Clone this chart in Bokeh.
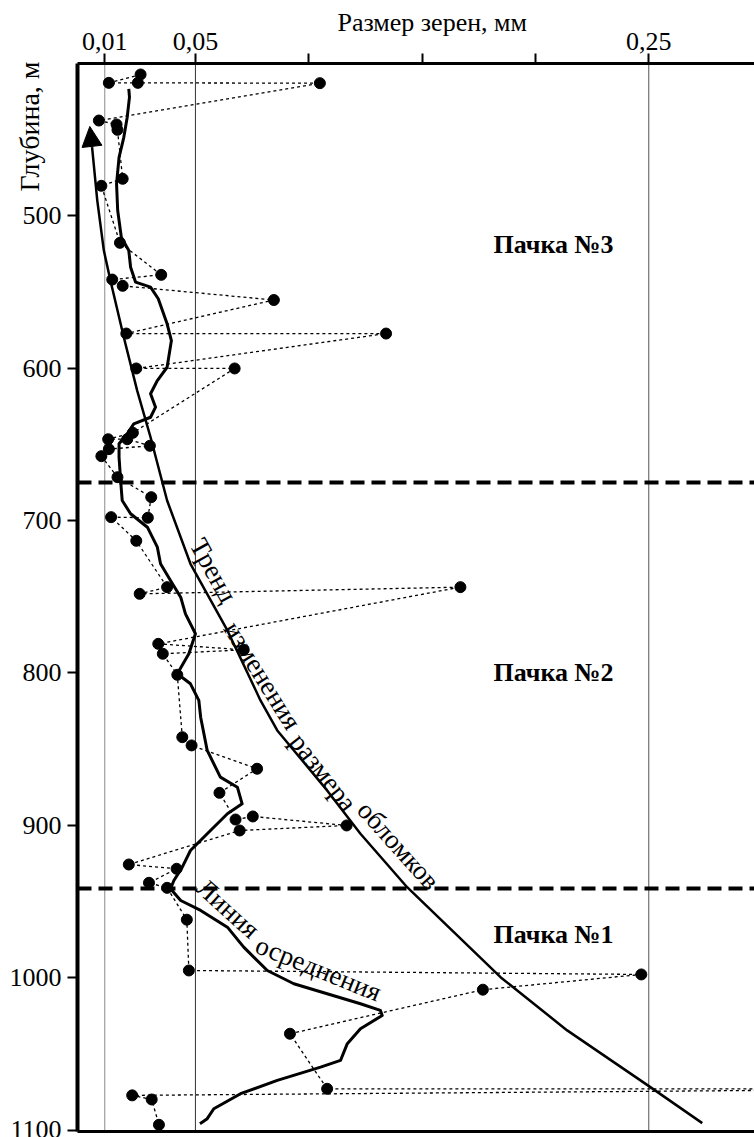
from bokeh.plotting import figure
from bokeh.models import Range1d, LinearAxis, FixedTicker, Span, Label, Arrow, NormalHead
from bokeh.embed import file_html
from bokeh.resources import INLINE

# ---------------- data (grain size, mm ; depth, m) ----------------
sample_size = [0.0258, 0.0118, 0.0246, 0.1049, 0.0074, 0.0152, 0.0156, 0.0179, 0.0085, 0.0167,
               0.0349, 0.0133, 0.0179, 0.0846, 0.0195, 0.1341, 0.0239, 0.0673, 0.0224, 0.0115,
               0.0199, 0.0299, 0.0118, 0.0085, 0.0156, 0.0305, 0.0290, 0.0128, 0.0239, 0.0375,
               0.0254, 0.1669, 0.0336, 0.0713, 0.0356, 0.0420, 0.0442, 0.0483, 0.0772, 0.0606,
               0.0677, 0.0753, 0.1167, 0.0695, 0.0206, 0.0417, 0.0295, 0.0375, 0.0462, 0.0471,
               0.2467, 0.1768, 0.0917, 0.1081, 0.3900, 0.0221, 0.0307, 0.0339]
sample_depth = [407.5, 413.0, 413.0, 413.2, 437.7, 440.3, 443.8, 475.9, 480.5, 517.9,
                538.9, 542.0, 546.1, 555.4, 577.4, 577.4, 600.3, 600.3, 642.5, 646.7,
                646.7, 651.0, 653.2, 657.8, 671.6, 684.7, 698.2, 697.8, 713.3, 743.7,
                748.1, 743.7, 780.9, 784.8, 787.4, 801.2, 842.1, 847.5, 862.8, 878.6,
                896.1, 894.1, 900.0, 903.3, 925.6, 928.4, 937.6, 940.9, 961.8, 995.1,
                997.7, 1007.7, 1036.6, 1072.7, 1072.7, 1077.0, 1079.7, 1096.3]

avg_size = [0.0206, 0.0209, 0.0199, 0.0184, 0.0163, 0.0152, 0.0157, 0.0173, 0.0206, 0.0214,
            0.0236, 0.0302, 0.0336, 0.0375, 0.0394, 0.0375, 0.0332, 0.0302, 0.0324, 0.0302,
            0.0228, 0.0199, 0.0163, 0.0163, 0.0170, 0.0177, 0.0214, 0.0288, 0.0332, 0.0346,
            0.0390, 0.0435, 0.0456, 0.0500, 0.0471, 0.0420, 0.0478, 0.0515, 0.0523, 0.0552,
            0.0610, 0.0685, 0.0706, 0.0641, 0.0552, 0.0478, 0.0442, 0.0405, 0.0390, 0.0435,
            0.0523, 0.0641, 0.0713, 0.0817, 0.0934, 0.1081, 0.1228, 0.1316, 0.1324, 0.1228,
            0.1170, 0.1140, 0.1052, 0.0861, 0.0699, 0.0581, 0.0552, 0.0520]
avg_depth = [416.9, 422.4, 435.5, 448.7, 461.8, 479.2, 496.7, 514.2, 523.0, 533.9,
             543.7, 547.0, 554.6, 571.0, 582.0, 599.5, 608.2, 616.9, 625.7, 632.3,
             636.6, 643.1, 649.7, 658.5, 673.8, 686.9, 695.6, 704.4, 717.5, 728.4,
             739.3, 750.3, 761.2, 774.3, 787.4, 800.5, 807.1, 818.0, 829.0, 850.8,
             868.3, 874.9, 885.8, 892.3, 905.4, 916.4, 927.3, 936.1, 941.5, 949.2,
             955.7, 966.7, 979.8, 995.1, 1003.8, 1010.4, 1016.9, 1021.3, 1024.6, 1033.3,
             1043.1, 1054.1, 1058.5, 1067.2, 1075.9, 1085.8, 1092.3, 1095.6]

trend_size = [0.0044, 0.0067, 0.0096, 0.0125, 0.0184, 0.0243, 0.0302, 0.0375, 0.0478, 0.0641,
              0.0787, 0.0861, 0.1081, 0.1228, 0.1434, 0.1846, 0.2140, 0.2507, 0.2736]
trend_depth = [455.2, 490.2, 523.0, 542.6, 579.8, 614.8, 645.4, 686.9, 728.4, 772.1,
               818.0, 837.7, 877.0, 905.4, 940.5, 999.5, 1034.4, 1071.6, 1095.2]
arrow_tip = (0.0034, 441.6)

x_tick_values = [0.01, 0.05, 0.10, 0.15, 0.20, 0.25]
x_tick_labels = ["0,01", "0,05", "", "", "", "0,25"]
y_tick_values = [500, 600, 700, 800, 900, 1000, 1100]
ref_lines = [0.01, 0.05, 0.25]
boundary_depths = [675.1, 941.3]
unit_names = ["Пачка №3", "Пачка №2", "Пачка №1"]
unit_depths = [519.0, 799.7, 971.5]
x_title = "Размер зерен, мм"
y_title = "Глубина, м"

FONT = "Liberation Serif"
NBSP = "\u00a0"

p = figure(width=754, height=1137,
           x_range=Range1d(-0.00203, 0.29664), y_range=Range1d(1100.7, 400.3),
           x_axis_location="above", output_backend="svg", toolbar_location=None,
           min_border_left=77, min_border_right=0, min_border_top=63, min_border_bottom=6)
p.outline_line_color = None
p.grid.visible = False
p.background_fill_color = "white"
p.border_fill_color = "white"

for ax in p.xaxis:
    ax.ticker = FixedTicker(ticks=x_tick_values)
    ax.major_label_overrides = {v: l for v, l in zip(x_tick_values, x_tick_labels)}
    # leading no-break spaces nudge the centred title to the right, as in the original
    ax.axis_label = NBSP * 5 + x_title
    ax.axis_label_standoff = -7
    ax.axis_label_text_font_size = "26px"
for ax in p.yaxis:
    ax.ticker = FixedTicker(ticks=y_tick_values)
    # title sits at the top of the depth axis; trailing no-break spaces push it below the frame top
    ax.axis_label = y_title + NBSP * 18
    ax.axis_label_standoff = -38
    ax.axis_label_text_font_size = "28px"
    try:
        ax.axis_label_align = "start"
    except Exception:
        pass
for ax in list(p.xaxis) + list(p.yaxis):
    ax.major_label_text_font = FONT
    ax.major_label_text_font_size = "26px"
    ax.major_label_text_color = "black"
    ax.axis_label_text_font = FONT
    ax.axis_label_text_font_style = "normal"
    ax.axis_label_text_color = "black"
    ax.axis_line_color = "black"
    ax.major_tick_line_color = "black"
    ax.major_tick_line_width = 2
    ax.major_tick_out = 10
    ax.major_tick_in = 0
    ax.minor_tick_out = 0
    ax.minor_tick_in = 0
p.xaxis.axis_line_width = 3
p.xaxis.major_label_standoff = 4
p.yaxis.axis_line_width = 4
p.yaxis.major_label_standoff = 6

bottom = LinearAxis(ticker=FixedTicker(ticks=[]), axis_line_width=3, axis_line_color="black",
                    major_tick_out=0, major_tick_in=0, minor_tick_out=0, minor_tick_in=0,
                    major_label_text_font_size="0px", major_label_standoff=0)
p.add_layout(bottom, "below")

ref_colors = ["#8a8a8a", "#333333", "#555555"]
for v, c in zip(ref_lines, ref_colors):
    p.add_layout(Span(location=v, dimension="height", line_color=c, line_width=1, level="underlay"))
for d in boundary_depths:
    p.add_layout(Span(location=d, dimension="width", line_color="black", line_width=4,
                      line_dash="14 7"))

p.line(sample_size, sample_depth, line_color="black", line_width=1.3, line_dash="3 3")
p.scatter(sample_size, sample_depth, size=11, fill_color="black", line_color="black")
p.line(avg_size, avg_depth, line_color="black", line_width=3, line_join="round")
p.line(trend_size, trend_depth, line_color="black", line_width=2.5, line_join="round")
p.add_layout(Arrow(end=NormalHead(size=20, fill_color="black", line_color="black"),
                   x_start=trend_size[0], y_start=trend_depth[0],
                   x_end=arrow_tip[0], y_end=arrow_tip[1], line_width=2.5, line_color="black"))


def lab(x, y, text, size="27px", angle=0, align="center", baseline="middle", bold=False):
    p.add_layout(Label(x=x, y=y, text=text, angle=angle, angle_units="deg",
                       text_align=align, text_baseline=baseline,
                       text_font=FONT, text_font_size=size, text_color="black",
                       text_font_style="bold" if bold else "normal"))


for name, d in zip(unit_names, unit_depths):
    lab(0.2080, d, name, size="26px", bold=True)

lab(0.0580, 732.8, "Тренд", angle=-61)
lab(0.0796, 801.6, "изменения", angle=-58)
lab(0.1065, 865.2, "размера", angle=-52)
lab(0.1396, 913.1, "обломков", angle=-48)
lab(0.0645, 954.4, "Линия", angle=-42)
lab(0.1043, 993.8, "осреднения", angle=-22)

open("out.html", "w").write(file_html(p, INLINE))
